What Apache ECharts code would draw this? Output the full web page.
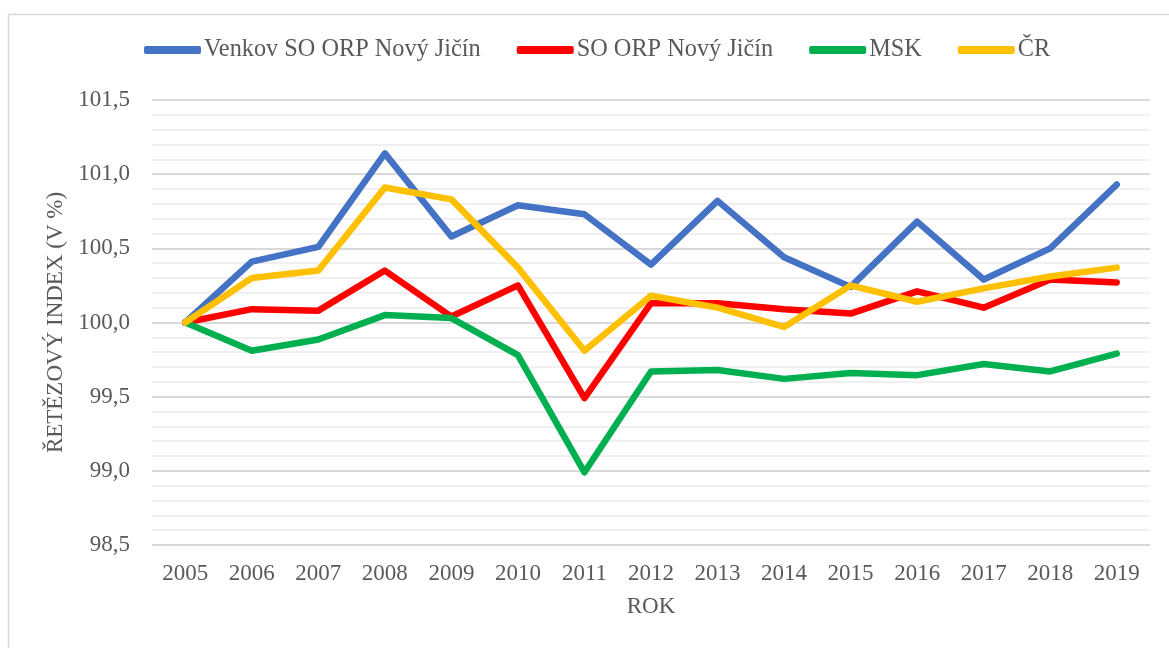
<!DOCTYPE html>
<html><head><meta charset="utf-8">
<script src="https://cdn.jsdelivr.net/npm/echarts@6/dist/echarts.min.js"></script>
<style>html,body{margin:0;padding:0;background:#fff}#c{width:1169px;height:648px}</style>
</head><body><div id="c"></div>
<script>
const years = ['2005','2006','2007','2008','2009','2010','2011','2012','2013','2014','2015','2016','2017','2018','2019'];
const seriesNames = ['Venkov SO ORP Nový Jičín','SO ORP Nový Jičín','MSK','ČR'];
const venkov = [100.00,100.41,100.51,101.14,100.58,100.79,100.73,100.39,100.82,100.44,100.24,100.68,100.29,100.50,100.93];
const orp    = [100.00,100.09,100.08,100.35,100.04,100.25,99.49,100.13,100.13,100.09,100.06,100.21,100.10,100.29,100.27];
const msk    = [100.00,99.81,99.885,100.05,100.03,99.78,98.99,99.67,99.68,99.62,99.66,99.645,99.72,99.67,99.79];
const cr     = [100.00,100.30,100.35,100.91,100.83,100.37,99.81,100.18,100.10,99.97,100.25,100.14,100.23,100.31,100.37];
const colors = ['#4472C4','#FF0000','#00B050','#FFC000'];
const font = 'Liberation Serif';
const txt = '#595959';
const chart = echarts.init(document.getElementById('c'));
const mk = (name, data, i) => ({
  name, type: 'line', data, showSymbol: false, symbol: 'none',
  lineStyle: {width: 6.5, color: colors[i], cap: 'round', join: 'round'},
  itemStyle: {color: colors[i]}, z: 2 + i
});
chart.setOption({
  animation: false,
  color: colors,
  graphic: [{type: 'rect', shape: {x: 8.5, y: 14.5, width: 1200, height: 700}, style: {fill: 'none', stroke: '#d9d9d9', lineWidth: 1.5}, silent: true}],
  legend: {
    left: 139, top: 33, icon: 'roundRect', itemWidth: 57, itemHeight: 8, itemGap: 36,
    textStyle: {fontFamily: font, fontSize: 24.3, color: txt, padding: [0,0,0,-2]},
    data: seriesNames
  },
  grid: {left: 152, right: 19, top: 100, bottom: 103},
  xAxis: {
    type: 'category', data: years, boundaryGap: true,
    axisLine: {show: false}, axisTick: {show: false},
    axisLabel: {fontFamily: font, fontSize: 23, color: txt, margin: 17},
    name: 'ROK', nameLocation: 'middle', nameGap: 50,
    nameTextStyle: {fontFamily: font, fontSize: 23, color: txt}
  },
  yAxis: {
    type: 'value', min: 98.5, max: 101.5, interval: 0.5,
    axisLine: {show: false}, axisTick: {show: false},
    axisLabel: {fontFamily: font, fontSize: 23, color: txt, margin: 22,
      formatter: v => v.toFixed(1).replace('.', ',')},
    splitLine: {lineStyle: {color: '#d9d9d9', width: 2}},
    minorTick: {show: false, splitNumber: 5},
    minorSplitLine: {show: true, lineStyle: {color: '#f0f0f0', width: 2}},
    name: 'ŘETĚZOVÝ INDEX (V %)', nameLocation: 'middle', nameGap: 84,
    nameTextStyle: {fontFamily: font, fontSize: 23, color: txt}
  },
  series: [mk(seriesNames[0], venkov, 0), mk(seriesNames[1], orp, 1), mk(seriesNames[2], msk, 2), mk(seriesNames[3], cr, 3)]
});
</script></body></html>
